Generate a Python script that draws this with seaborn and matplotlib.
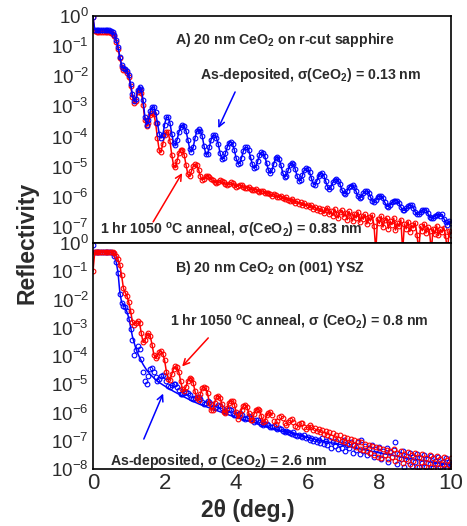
import numpy as np
import matplotlib
matplotlib.use("Agg")
import matplotlib.pyplot as plt
from matplotlib.ticker import LogLocator, MultipleLocator, NullFormatter
import seaborn as sns

sns.set_style("white")
plt.rcParams["font.family"] = ["Liberation Sans", "DejaVu Sans"]
plt.rcParams["mathtext.fontset"] = "custom"
plt.rcParams["mathtext.rm"] = "Liberation Sans"
plt.rcParams["mathtext.bf"] = "Liberation Sans:bold"
plt.rcParams["mathtext.it"] = "Liberation Sans:italic"

# scan grid: 2theta from 0 to 10 deg in 0.05 deg steps
two_theta = np.round(np.arange(201) * 0.05, 2)

# all curves stored as -log10(reflectivity), 10 values per 0.5 deg
a_asdep = [
    0.03, 0.45, 0.46, 0.46, 0.46, 0.46, 0.46, 0.46, 0.47, 0.48,
    0.50, 0.54, 0.62, 0.80, 1.02, 1.35, 1.62, 1.72, 1.75, 1.82,
    1.95, 2.25, 2.60, 2.82, 2.75, 2.45, 2.34, 2.42, 2.80, 3.35,
    3.60, 3.45, 3.15, 3.02, 3.02, 3.20, 3.55, 3.90, 4.05, 3.95,
    3.60, 3.36, 3.36, 3.55, 3.90, 4.20, 4.27, 4.10, 3.85, 3.68,
    3.62, 3.65, 3.82, 4.10, 4.40, 4.50, 4.35, 4.05, 3.82, 3.75,
    3.80, 3.98, 4.30, 4.58, 4.58, 4.35, 4.10, 3.96, 3.95, 4.05,
    4.25, 4.55, 4.75, 4.72, 4.55, 4.35, 4.20, 4.18, 4.25, 4.45,
    4.72, 4.90, 4.88, 4.70, 4.48, 4.36, 4.36, 4.45, 4.68, 4.92,
    5.05, 5.00, 4.82, 4.62, 4.52, 4.54, 4.66, 4.88, 5.12, 5.22,
    5.12, 4.90, 4.72, 4.68, 4.75, 4.95, 5.20, 5.35, 5.30, 5.12,
    4.95, 4.88, 4.92, 5.08, 5.30, 5.46, 5.45, 5.28, 5.12, 5.05,
    5.06, 5.18, 5.38, 5.56, 5.60, 5.48, 5.32, 5.23, 5.22, 5.30,
    5.48, 5.66, 5.75, 5.66, 5.52, 5.44, 5.42, 5.46, 5.58, 5.76,
    5.88, 5.90, 5.80, 5.68, 5.63, 5.62, 5.68, 5.82, 5.98, 6.04,
    6.00, 5.88, 5.82, 5.80, 5.86, 6.00, 6.14, 6.18, 6.10, 6.00,
    5.98, 5.97, 6.04, 6.18, 6.30, 6.32, 6.26, 6.18, 6.13, 6.12,
    6.12, 6.20, 6.34, 6.44, 6.45, 6.38, 6.30, 6.28, 6.28, 6.36,
    6.50, 6.58, 6.58, 6.50, 6.44, 6.42, 6.44, 6.54, 6.66, 6.70,
    6.70, 6.62, 6.60, 6.58, 6.62, 6.58, 6.72, 6.84, 6.92, 6.80,
    6.86,
]
a_anneal = [
    0.05, 0.50, 0.52, 0.52, 0.52, 0.52, 0.52, 0.52, 0.53, 0.54,
    0.56, 0.60, 0.68, 0.85, 1.08, 1.40, 1.68, 1.78, 1.80, 1.88,
    2.02, 2.32, 2.68, 2.90, 2.82, 2.52, 2.45, 2.55, 2.95, 3.45,
    3.66, 3.55, 3.30, 3.22, 3.25, 3.55, 4.05, 4.45, 4.50, 4.25,
    3.95, 3.84, 3.86, 4.15, 4.60, 4.95, 5.02, 4.80, 4.55, 4.44,
    4.44, 4.62, 4.95, 5.25, 5.32, 5.15, 4.98, 4.92, 4.94, 5.10,
    5.32, 5.44, 5.40, 5.30, 5.30, 5.35, 5.42, 5.45, 5.50, 5.55,
    5.50, 5.45, 5.48, 5.52, 5.58, 5.62, 5.56, 5.52, 5.55, 5.60,
    5.66, 5.64, 5.60, 5.62, 5.68, 5.72, 5.70, 5.68, 5.74, 5.78,
    5.76, 5.74, 5.80, 5.84, 5.82, 5.80, 5.86, 5.88, 5.86, 5.92,
    5.96, 5.90, 5.94, 6.00, 6.02, 5.96, 6.04, 6.08, 6.02, 6.10,
    6.14, 6.06, 6.12, 6.20, 6.14, 6.22, 6.18, 6.28, 6.20, 6.30,
    6.26, 6.34, 6.28, 6.40, 6.32, 6.44, 6.36, 6.48, 6.40, 6.55,
    6.45, 6.36, 6.58, 6.46, 6.62, 6.40, 6.56, 6.70, 6.50, 6.44,
    6.66, 6.52, 6.76, 6.48, 6.62, 6.80, 6.56, 6.70, 6.50, 6.84,
    6.62, 6.74, 6.58, 6.90, 6.66, 6.80, 6.60, 6.95, 7.80, 6.72,
    6.88, 6.64, 7.00, 6.78, 6.70, 7.05, 6.80, 6.92, 6.70, 7.10,
    6.86, 6.98, 6.76, 7.80, 6.90, 7.06, 6.82, 7.15, 6.94, 7.02,
    6.86, 7.25, 7.80, 6.98, 7.12, 6.90, 7.20, 7.00, 7.14, 7.80,
    7.05, 7.22, 6.96, 7.28, 7.08, 7.18, 7.02, 7.30, 7.80, 7.12,
    7.25,
]
b_asdep = [
    0.08, 0.32, 0.32, 0.32, 0.32, 0.32, 0.32, 0.32, 0.32, 0.32,
    0.33, 0.36, 0.45, 0.68, 1.05, 1.80, 2.12, 2.22, 2.26, 2.40,
    2.70, 3.05, 3.45, 3.95, 3.80, 3.65, 3.75, 4.10, 4.55, 4.90,
    5.00, 4.70, 4.45, 4.42, 4.55, 4.75, 4.88, 4.82, 4.70, 4.66,
    4.72, 4.90, 5.05, 5.08, 5.02, 4.98, 5.00, 5.08, 5.22, 5.33,
    5.36, 5.32, 5.28, 5.30, 5.38, 5.48, 5.52, 5.48, 5.44, 5.46,
    5.54, 5.64, 5.70, 5.66, 5.60, 5.62, 5.70, 5.80, 5.84, 5.80,
    5.74, 5.76, 5.84, 5.94, 5.98, 5.92, 5.88, 5.92, 6.02, 6.08,
    6.10, 6.04, 6.02, 6.08, 6.18, 6.22, 6.18, 6.14, 6.18, 6.28,
    6.32, 6.28, 6.26, 6.32, 6.40, 6.44, 6.40, 6.40, 6.46, 6.52,
    6.50, 6.48, 6.56, 6.60, 6.56, 6.58, 6.64, 6.68, 6.64, 6.68,
    6.72, 6.76, 6.70, 6.78, 6.82, 6.78, 6.84, 6.88, 6.80, 6.92,
    6.88, 6.96, 6.90, 7.00, 6.94, 7.04, 6.98, 7.08, 6.92, 7.12,
    7.02, 7.16, 6.96, 7.26, 7.06, 7.18, 7.00, 7.30, 7.10, 7.24,
    6.98, 7.36, 7.14, 7.26, 7.04, 7.42, 7.16, 7.32, 7.06, 7.46,
    6.96, 7.36, 7.20, 7.52, 7.26, 7.42, 7.16, 7.58, 7.30, 7.46,
    7.22, 7.66, 7.36, 7.52, 7.26, 7.74, 7.40, 7.58, 7.32, 7.06,
    7.82, 7.48, 7.66, 7.36, 7.92, 7.54, 7.70, 7.42, 7.88, 7.58,
    7.76, 7.46, 7.94, 7.62, 7.80, 7.50, 7.92, 7.66, 7.84, 7.54,
    7.96, 7.70, 7.82, 7.58, 7.94, 7.74, 7.86, 7.62, 7.97, 7.76,
    7.84,
]
b_anneal = [
    1.00, 0.32, 0.32, 0.32, 0.32, 0.32, 0.32, 0.32, 0.32, 0.32,
    0.32, 0.33, 0.36, 0.45, 0.58, 0.78, 1.15, 1.60, 1.76, 1.88,
    2.10, 2.40, 2.78, 2.90, 2.82, 2.76, 2.82, 3.20, 3.52, 3.45,
    3.25, 3.20, 3.30, 3.60, 3.95, 4.08, 4.00, 3.86, 3.84, 3.92,
    4.15, 4.55, 4.80, 4.84, 4.65, 4.45, 4.37, 4.40, 4.58, 4.90,
    5.18, 5.25, 5.08, 4.88, 4.78, 4.80, 4.95, 5.25, 5.50, 5.55,
    5.35, 5.15, 5.10, 5.15, 5.32, 5.65, 5.92, 5.90, 5.65, 5.45,
    5.40, 5.48, 5.70, 5.98, 6.02, 5.85, 5.65, 5.58, 5.60, 5.72,
    6.00, 6.22, 6.10, 5.90, 5.76, 5.72, 5.80, 6.02, 6.28, 6.25,
    6.05, 5.90, 5.86, 5.92, 6.12, 6.35, 6.30, 6.10, 6.02, 6.00,
    6.10, 6.30, 6.42, 6.30, 6.16, 6.12, 6.18, 6.36, 6.45, 6.34,
    6.26, 6.24, 6.32, 6.48, 6.50, 6.40, 6.36, 6.38, 6.50, 6.58,
    6.52, 6.46, 6.50, 6.62, 6.56, 6.64, 6.58, 6.70, 6.62, 6.76,
    6.66, 6.80, 6.70, 6.86, 6.74, 6.90, 6.78, 6.94, 6.80, 7.00,
    6.86, 7.04, 6.90, 7.10, 6.94, 7.16, 6.98, 7.22, 7.00, 7.28,
    7.06, 7.32, 7.10, 7.38, 7.14, 7.44, 7.18, 7.50, 7.22, 7.56,
    7.26, 7.62, 7.30, 7.50, 7.34, 7.66, 7.38, 7.56, 7.30, 7.72,
    7.44, 7.62, 7.36, 7.80, 7.48, 7.66, 7.40, 7.84, 7.52, 7.70,
    7.44, 7.92, 7.56, 7.74, 7.48, 7.90, 7.60, 7.78, 7.52, 7.94,
    7.62, 7.80, 7.54, 7.96, 7.66, 7.84, 7.56, 7.98, 7.68, 7.86,
    7.60,
]

# smooth model curve for the as-deposited film on YSZ
b_asdep_fit_x = [0, 0.25, 0.5, 0.6, 0.65, 0.7, 0.75, 0.8, 0.9, 1.0, 1.1, 1.2, 1.3,
                 1.4, 1.5, 1.6, 1.8, 2.0, 2.25, 2.5, 2.75, 3.0, 3.5, 4.0, 4.5,
                 5.0, 5.5, 6.0, 6.5, 7.0, 7.5, 8.0, 8.5, 9.0, 9.5, 10.0]
b_asdep_fit = [0.32, 0.32, 0.33, 0.45, 0.68, 1.05, 1.75, 2.10, 2.25, 2.65, 3.30,
               3.75, 4.05, 4.30, 4.50, 4.65, 4.90, 5.06, 5.25, 5.42, 5.58, 5.72,
               5.95, 6.18, 6.36, 6.57, 6.72, 6.88, 7.03, 7.16, 7.30, 7.43, 7.55,
               7.66, 7.76, 7.86]

for arr in (a_asdep, a_anneal, b_asdep, b_anneal):
    assert len(arr) == len(two_theta)

BLUE = (0, 0, 1)
RED = (1, 0, 0)
TXT = "#2b2b2b"


def refl(depth):
    return 10.0 ** (-np.asarray(depth, dtype=float))


def draw(ax, x, depth, color, line=True, markers=True):
    kw = dict(ax=ax, x=np.asarray(x), y=refl(depth), color=color,
              errorbar=None, sort=False, legend=False)
    if markers:
        kw.update(marker="o", markersize=3.4, markerfacecolor="none",
                  markeredgecolor=color, markeredgewidth=0.8)
    if line:
        kw.update(linewidth=1.1)
    else:
        kw.update(linestyle="none")
    sns.lineplot(**kw)


fig = plt.figure(figsize=(4.67, 5.26), dpi=100)
axA = fig.add_axes([0.1991, 0.5380, 0.7666, 0.4316])
axB = fig.add_axes([0.1991, 0.1084, 0.7666, 0.4296])

for ax in (axA, axB):
    ax.set_yscale("log")

# panel A: annealed under as-deposited
draw(axA, two_theta, a_anneal, RED)
draw(axA, two_theta, a_asdep, BLUE)

# panel B: as-deposited under annealed
mask = two_theta <= 5.0
draw(axB, two_theta, b_asdep, BLUE, line=False)
draw(axB, b_asdep_fit_x, b_asdep_fit, BLUE, markers=False)
draw(axB, two_theta, b_anneal, RED, line=False)
draw(axB, two_theta[mask], np.asarray(b_anneal)[mask], RED, markers=False)

axA.set_ylim(10 ** -7.53, 1)
axB.set_ylim(1e-8, 1)

for ax in (axA, axB):
    ax.set_xlim(0, 10)
    ax.set_xlabel("")
    ax.set_ylabel("")
    ax.xaxis.set_major_locator(MultipleLocator(2))
    ax.xaxis.set_minor_locator(MultipleLocator(1))
    ax.yaxis.set_major_locator(LogLocator(base=10, numticks=20))
    ax.yaxis.set_minor_locator(LogLocator(base=10, subs=np.arange(2, 10), numticks=20))
    ax.yaxis.set_minor_formatter(NullFormatter())
    ax.tick_params(which="both", direction="in", top=False, right=False,
                   colors="black", labelcolor=TXT)
    ax.tick_params(axis="x", labelsize=16)
    ax.tick_params(axis="y", labelsize=13.5)
    ax.tick_params(which="major", length=5, width=1.0, pad=3)
    ax.tick_params(which="minor", length=2.5, width=0.8)
    for sp in ax.spines.values():
        sp.set_color("black")
        sp.set_linewidth(1.2)
    ax.grid(False)

axA.tick_params(axis="x", labelbottom=False)

tkw = dict(fontsize=10.2, fontweight="bold", color=TXT, va="center", ha="left")

# panel A annotations
axA.text(0.229, 0.894, r"A) 20 nm CeO$_\mathbf{2}$ on r-cut sapphire",
         transform=axA.transAxes, **tkw)
axA.text(0.300, 0.740, r"As-deposited, σ(CeO$_\mathbf{2}$) = 0.13 nm",
         transform=axA.transAxes, **tkw)
axA.text(0.020, 0.053, r"1 hr 1050 $^\mathbf{o}$C anneal, σ(CeO$_\mathbf{2}$) = 0.83 nm",
         transform=axA.transAxes, **tkw)
axA.annotate("", xy=(3.50, 10 ** -3.72), xytext=(3.97, 10 ** -2.52),
             arrowprops=dict(arrowstyle="->", color=BLUE, lw=1.1,
                             shrinkA=0, shrinkB=0, mutation_scale=11))
axA.annotate("", xy=(2.49, 10 ** -5.21), xytext=(1.68, 10 ** -6.83),
             arrowprops=dict(arrowstyle="->", color=RED, lw=1.1,
                             shrinkA=0, shrinkB=0, mutation_scale=11))

# panel B annotations
axB.text(0.229, 0.891, r"B) 20 nm CeO$_\mathbf{2}$ on (001) YSZ",
         transform=axB.transAxes, **tkw)
axB.text(0.215, 0.647, r"1 hr 1050 $^\mathbf{o}$C anneal, σ (CeO$_\mathbf{2}$) = 0.8 nm",
         transform=axB.transAxes, **tkw)
axB.text(0.047, 0.037, r"As-deposited, σ (CeO$_\mathbf{2}$) = 2.6 nm",
         transform=axB.transAxes, **tkw)
axB.annotate("", xy=(2.49, 10 ** -4.37), xytext=(3.22, 10 ** -3.36),
             arrowprops=dict(arrowstyle="->", color=RED, lw=1.1,
                             shrinkA=0, shrinkB=0, mutation_scale=11))
axB.annotate("", xy=(1.96, 10 ** -5.33), xytext=(1.42, 10 ** -6.94),
             arrowprops=dict(arrowstyle="->", color=BLUE, lw=1.1,
                             shrinkA=0, shrinkB=0, mutation_scale=11))

fig.text(0.058, 0.538, "Reflectivity", rotation=90, fontsize=16.5,
         fontweight="bold", color=TXT, ha="center", va="center")
fig.text(0.530, 0.029, "2θ (deg.)", fontsize=16.5, fontweight="bold",
         color=TXT, ha="center", va="center")

fig.savefig("out.png", dpi=100)
